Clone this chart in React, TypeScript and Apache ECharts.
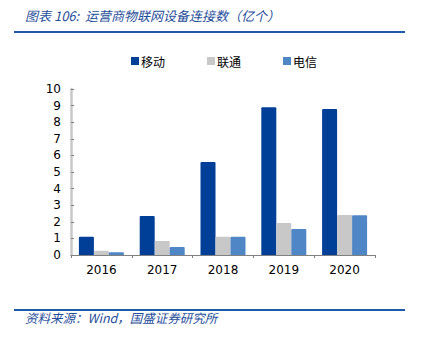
import React, { useEffect, useRef } from "react";
import * as echarts from "echarts";

const categories = ["2016", "2017", "2018", "2019", "2020"];
const seriesNames = ["移动", "联通", "电信"];
const mobile = [1.1, 2.35, 5.6, 8.9, 8.8];
const unicom = [0.26, 0.84, 1.1, 1.93, 2.41];
const telecom = [0.16, 0.48, 1.1, 1.57, 2.4];
const colors = ["#003f98", "#c8c8c8", "#4f86c6"];
const titleText = "图表 106:  运营商物联网设备连接数（亿个）";
const sourceText = "资料来源：Wind，国盛证券研究所";

export default function App() {
  const ref = useRef<HTMLDivElement>(null);
  useEffect(() => {
    if (!ref.current) return;
    const chart = echarts.init(ref.current, null, { renderer: "svg" });
    const values = [mobile, unicom, telecom];
    chart.setOption({
      animation: false,
      backgroundColor: "#ffffff",
      textStyle: { fontFamily: "'Noto Sans CJK SC', sans-serif" },
      legend: {
        left: 131,
        top: 55,
        itemWidth: 8,
        itemHeight: 8,
        itemGap: 42,
        padding: 0,
        icon: "rect",
        data: seriesNames,
        textStyle: { fontSize: 12, color: "#000", padding: [0, 0, 0, -3] },
      },
      grid: { left: 71, right: 46, top: 89, bottom: 83, containLabel: false },
      xAxis: {
        type: "category",
        data: categories,
        axisLine: { lineStyle: { color: "#808080", width: 1 } },
        axisTick: { show: true, alignWithLabel: false, length: 3, lineStyle: { color: "#808080" } },
        axisLabel: { color: "#000", fontSize: 12, margin: 9, fontFamily: "'DejaVu Sans', Verdana, sans-serif" },
      },
      yAxis: {
        type: "value",
        min: 0,
        max: 10,
        interval: 1,
        splitLine: { show: false },
        axisLine: { show: true, lineStyle: { color: "#c8c8c8", width: 2.5 } },
        axisTick: { show: true, inside: true, length: 3, lineStyle: { color: "#808080" } },
        axisLabel: { color: "#000", fontSize: 12, margin: 10, fontFamily: "'DejaVu Sans', Verdana, sans-serif" },
      },
      series: seriesNames.map((name, i) => ({
        name,
        type: "bar",
        data: values[i],
        barGap: "0%",
        barCategoryGap: "26%",
        itemStyle: { color: colors[i], borderRadius: [1, 1, 0, 0] },
      })),
      graphic: [
        {
          type: "text",
          left: 25,
          top: 9,
          style: {
            text: titleText,
            fill: "#1f4e9a",
            font: "italic 13px 'Noto Sans CJK SC', sans-serif",
          },
        },
        {
          type: "line",
          shape: { x1: 14, y1: 32, x2: 405, y2: 32 },
          style: { stroke: "#1f5aa6", lineWidth: 2 },
        },
        {
          type: "line",
          shape: { x1: 14, y1: 310, x2: 405, y2: 310 },
          style: { stroke: "#1f5aa6", lineWidth: 2 },
        },
        {
          type: "text",
          left: 25,
          top: 311,
          style: {
            text: sourceText,
            fill: "#1f4e9a",
            font: "italic 12.5px 'Noto Sans CJK SC', sans-serif",
          },
        },
      ],
    });
    return () => chart.dispose();
  }, []);
  return <div ref={ref} style={{ width: 421, height: 338, position: "absolute", left: 0, top: 0 }} />;
}
